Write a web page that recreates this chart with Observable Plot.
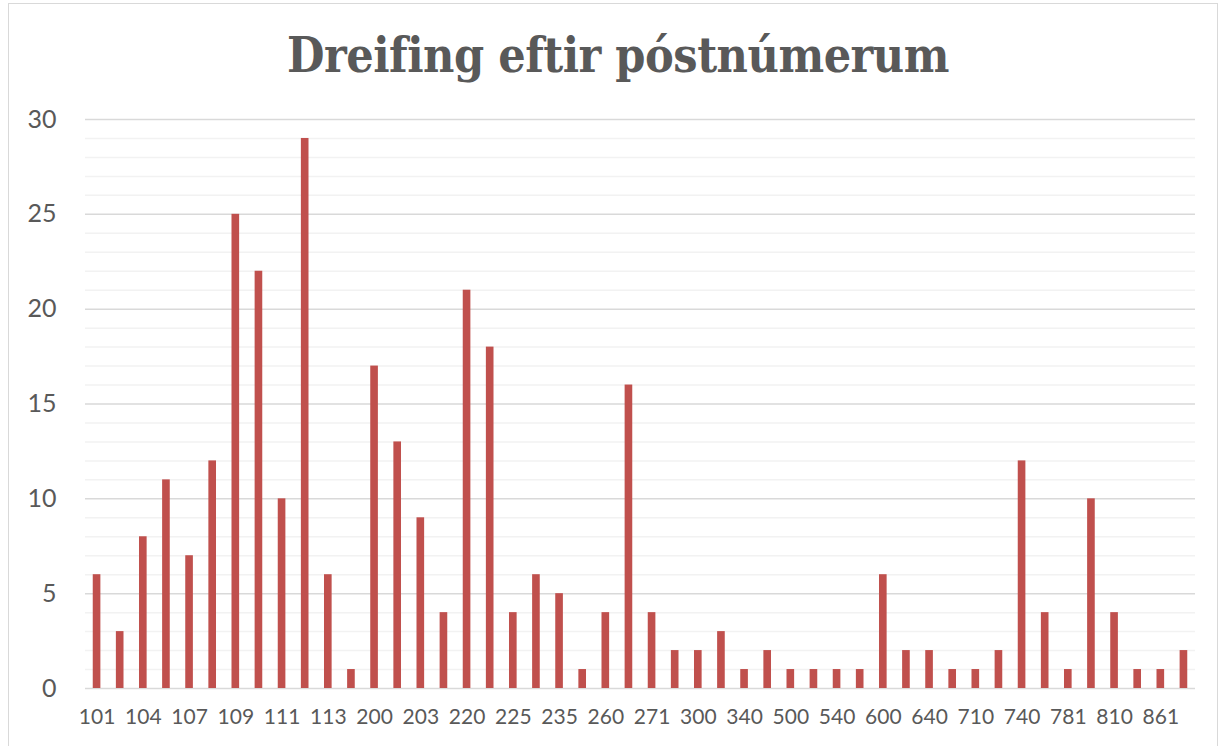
<!DOCTYPE html>
<html>
<head>
<meta charset="utf-8">
<script src="https://cdn.jsdelivr.net/npm/d3@7"></script>
<script src="https://cdn.jsdelivr.net/npm/@observablehq/plot@0.6"></script>
<style>
  html, body { margin: 0; padding: 0; background: #fff; overflow: hidden; }
  #wrap { position: relative; width: 1227px; height: 746px; }
  #frame { position: absolute; left: 8px; top: 3px; width: 1210px; height: 800px; border: 1.5px solid #d9d9d9; box-sizing: border-box; }
  #title { position: absolute; left: 0; top: 29px; width: 1236px; text-align: center;
    font-family: "DejaVu Serif Condensed", "DejaVu Serif", serif; font-stretch: condensed; font-weight: bold; font-size: 48px; color: #595959; margin: 0; letter-spacing: -0.5px; line-height: 1.1; }
  #chart { position: absolute; left: 0; top: 0; }
</style>
</head>
<body>
<div id="wrap">
  <div id="frame"></div>
  <div id="title">Dreifing eftir póstnúmerum</div>
  <div id="chart"></div>
</div>
<script>
const postcodes = ["101","103","104","105","107","108","109","110","111","112","113","116",
  "200","201","203","210","220","221","225","230","235","240","260","270",
  "271","276","300","310","340","400","500","530","540","550","600","603",
  "640","700","710","730","740","750","781","800","810","850","861","900"];
const counts = [6,3,8,11,7,12,25,22,10,29,6,1,
  17,13,9,4,21,18,4,6,5,1,4,16,
  4,2,2,3,1,2,1,1,1,1,6,2,
  2,1,1,2,12,4,1,10,4,1,1,2];
const shownLabels = postcodes.filter((d, i) => i % 2 === 0);
const yTicks = [0, 5, 10, 15, 20, 25, 30];
const minorTicks = d3.range(0, 31);

const data = postcodes.map((p, i) => ({postcode: p, count: counts[i]}));

const chart = Plot.plot({
  width: 1227,
  height: 746,
  marginLeft: 85,
  marginRight: 32,
  marginTop: 119,
  marginBottom: 58,
  style: { fontFamily: "Lato, 'Open Sans', sans-serif", color: "#595959", background: "transparent" },
  x: { domain: postcodes, paddingInner: 0.67, paddingOuter: 0.335, round: false, label: null },
  y: { domain: [0, 30], label: null },
  marks: [
    Plot.ruleY(minorTicks.filter(d => d % 5 !== 0), { stroke: "#f2f2f2", strokeWidth: 1.5 }),
    Plot.ruleY(yTicks, { stroke: "#d9d9d9", strokeWidth: 1.5 }),
    Plot.barY(data, { x: "postcode", y: "count", fill: "#c0504d" }),
    Plot.axisX({ ticks: shownLabels, tickSize: 0, tickPadding: 21, fontSize: 21, label: null, fill: "#595959" }),
    Plot.axisY({ ticks: yTicks, tickSize: 0, tickPadding: 29, fontSize: 25, label: null, fill: "#595959" })
  ]
});
document.getElementById("chart").appendChild(chart);
</script>
</body>
</html>
